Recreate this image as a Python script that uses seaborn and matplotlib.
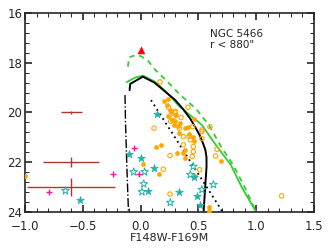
import numpy as np
import pandas as pd
import seaborn as sns
import matplotlib.pyplot as plt
from matplotlib.ticker import AutoMinorLocator, MultipleLocator

# isochrone (black solid) and binary sequences (green)
iso_c = [-0.095, -0.09, 0.02, 0.12, 0.21, 0.30, 0.37, 0.43, 0.47, 0.51, 0.54, 0.56, 0.57, 0.57, 0.56, 0.545]
iso_m = [19.1, 18.85, 18.56, 18.8, 19.15, 19.5, 19.88, 20.25, 20.57, 20.9, 21.24, 21.5, 21.8, 22.2, 22.9, 24.0]
gs_c = [-0.12, -0.05, 0.02, 0.12, 0.21, 0.33, 0.40, 0.53, 0.65, 0.78, 0.88, 1.0]
gs_m = [18.78, 18.6, 18.52, 18.75, 19.12, 19.72, 20.0, 20.5, 21.3, 22.1, 23.05, 24.0]
gd_c = [-0.11, -0.10, -0.06, 0.0, 0.06, 0.125, 0.22, 0.34, 0.485, 0.59, 0.70, 0.80, 0.90, 1.0]
gd_m = [18.16, 17.78, 17.72, 17.73, 17.9, 18.28, 18.7, 19.28, 19.88, 20.5, 21.4, 22.1, 23.0, 24.0]
dot_c = [0.09, 0.40, 0.71]
dot_m = [19.5, 21.75, 24.0]
wd_c = [-0.135, -0.13, -0.12, -0.105]
wd_m = [19.3, 20.5, 22.0, 24.0]

# orange stars (filled / open)
of_c = [0.20, 0.226, 0.254, 0.263, 0.237, 0.27, 0.30, 0.29, 0.32, 0.34, 0.38, 0.41, 0.33, 0.456, 0.46,
        0.133, 0.174, 0.384, 0.318, 0.37, 0.38, 0.695, 0.47, 0.018, 0.16, 0.59, 0.59, 0.46, -1.0, 0.24, 0.31, 0.42]
of_m = [19.55, 19.68, 19.88, 19.96, 20.16, 20.3, 20.35, 20.5, 20.55, 20.43, 20.63, 20.57, 20.83, 20.97, 21.15,
        21.4, 21.3, 21.5, 21.63, 21.63, 21.84, 21.94, 22.57, 22.08, 22.48, 23.8, 23.95, 20.28, 22.55, 19.45, 20.1, 20.85]
oo_c = [0.168, 0.24, 0.30, 0.41, 0.30, 0.28, 0.116, 0.335, 0.45, 0.53, 0.60, 0.37, 0.42, 0.43, 0.53,
        0.37, 0.456, 0.456, 0.254, 0.447, 0.66, 0.65, 0.51, 0.196, 0.254, 1.22, 0.53, 0.35, 0.26]
oo_m = [18.77, 19.79, 19.95, 19.79, 20.0, 20.2, 20.63, 20.63, 20.57, 20.77, 20.57, 20.97, 20.95, 21.1, 21.05,
        21.3, 21.37, 21.57, 21.73, 21.77, 21.48, 21.75, 22.3, 22.28, 23.28, 23.35, 20.7, 20.2, 20.35]

# teal stars (filled / open)
tf_c = [0.14, -0.10, 0.0, 0.12, 0.064, -0.52, 0.33, 0.465, 0.49, 0.51]
tf_m = [20.06, 21.67, 21.84, 22.24, 23.15, 23.52, 23.2, 22.6, 23.35, 23.71]
to_c = [-0.65, -0.06, 0.035, 0.027, 0.012, 0.257, 0.456, 0.43, 0.53, 0.63]
to_m = [23.15, 22.39, 22.39, 22.87, 23.19, 23.62, 22.17, 22.5, 23.1, 22.9]

# magenta crosses, red triangle
pk_c = [-0.79, -0.24, -0.055, -0.015]
pk_m = [23.18, 22.48, 21.41, 22.48]
tri_c = [0.0]
tri_m = [17.5]

# photometric errors
err_c = [-0.6, -0.6, -0.6]
err_m = [20.0, 22.0, 23.0]
err_xe = [0.09, 0.24, 0.38]
err_ye = [0.07, 0.2, 0.37]

sns.set_style('ticks')
plt.rcParams['font.family'] = ['DejaVu Sans']

fig = plt.figure(figsize=(3.32, 2.49), dpi=100)
ax = fig.add_axes([0.0753, 0.1486, 0.8705, 0.7992])

orange = '#FFA500'
teal = '#20B2AA'

sns.lineplot(x=wd_c, y=wd_m, sort=False, estimator=None, color='k', lw=1.0, linestyle='-.', ax=ax)
sns.lineplot(x=dot_c, y=dot_m, sort=False, estimator=None, color='k', lw=1.3, linestyle=(0, (1, 2)), ax=ax)
sns.lineplot(x=gd_c, y=gd_m, sort=False, estimator=None, color='limegreen', lw=1.3, linestyle=(0, (3, 2.5)), ax=ax)
sns.lineplot(x=gs_c, y=gs_m, sort=False, estimator=None, color='limegreen', lw=1.3, ax=ax)
sns.lineplot(x=iso_c, y=iso_m, sort=False, estimator=None, color='k', lw=1.4, ax=ax)

sns.scatterplot(x=of_c, y=of_m, marker='o', s=10, color=orange, edgecolor=orange, ax=ax, zorder=3)
sns.scatterplot(x=oo_c, y=oo_m, marker='o', s=10, color=orange, facecolor='none', edgecolor=orange,
                linewidth=0.8, ax=ax, zorder=3)
sns.scatterplot(x=tf_c, y=tf_m, marker='*', s=34, color=teal, edgecolor=teal, ax=ax, zorder=3)
sns.scatterplot(x=to_c, y=to_m, marker='*', s=34, color=teal, facecolor='none', edgecolor=teal,
                linewidth=0.7, ax=ax, zorder=3)
sns.scatterplot(x=pk_c, y=pk_m, marker='+', s=22, color='deeppink', linewidth=1.0, ax=ax, zorder=3)
sns.scatterplot(x=tri_c, y=tri_m, marker='^', s=25, color='red', edgecolor='red', ax=ax, zorder=3)

ax.errorbar(err_c, err_m, xerr=err_xe, yerr=err_ye, fmt='none', ecolor='#b03535', elinewidth=1.0, capsize=0)

ax.text(0.6, 17.06, 'NGC 5466\nr < 880"', fontsize=7.5, va='center', ha='left', linespacing=1.2)

ax.set_xlim(-1.0, 1.5)
ax.set_ylim(24, 16)
ax.xaxis.set_major_locator(MultipleLocator(0.5))
ax.yaxis.set_major_locator(MultipleLocator(2))
ax.xaxis.set_minor_locator(AutoMinorLocator(5))
ax.yaxis.set_minor_locator(AutoMinorLocator(5))
ax.tick_params(which='both', direction='in', top=True, right=True, labelsize=8.5)
ax.tick_params(axis='x', pad=5.5)
ax.tick_params(axis='y', pad=2)
ax.tick_params(which='major', length=5, width=1.2)
ax.tick_params(which='minor', length=3, width=0.7)
for sp in ax.spines.values():
    sp.set_linewidth(1.2)
ax.set_xlabel('F148W-F169M', fontsize=8, labelpad=0)
ax.set_ylabel('')

fig.savefig('out.png', dpi=100)
